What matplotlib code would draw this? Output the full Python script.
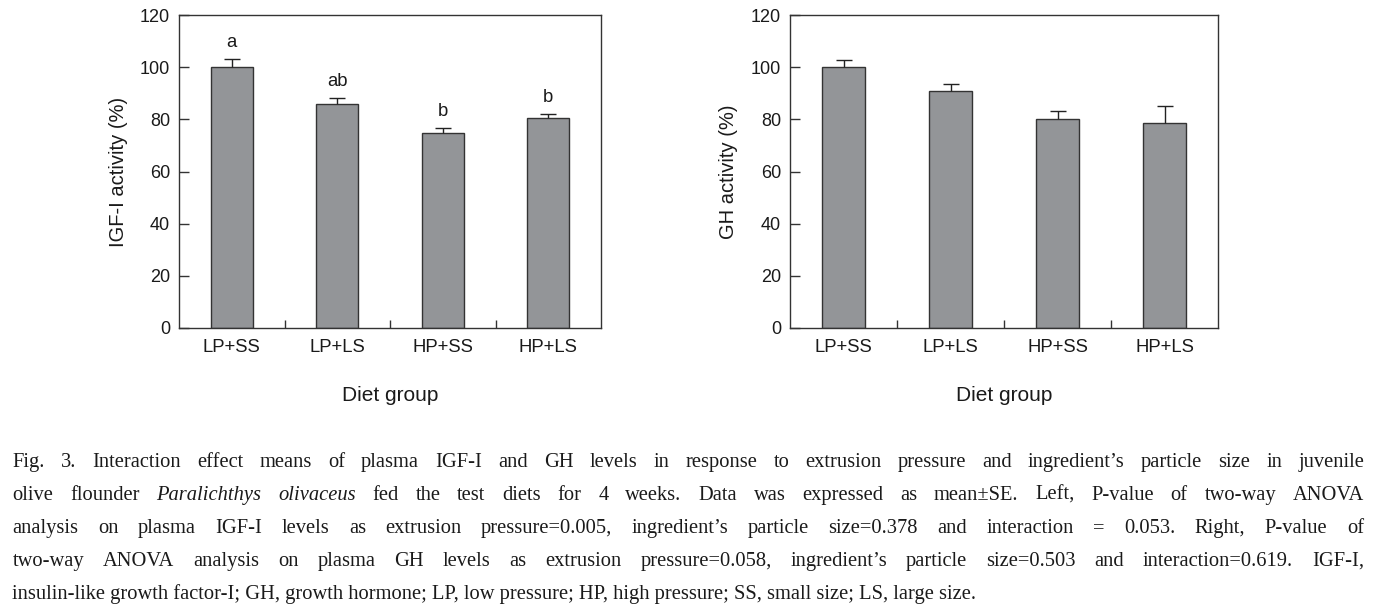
import matplotlib
matplotlib.use("Agg")
import matplotlib.pyplot as plt
import numpy as np

# ---- data ----
groups = ["LP+SS", "LP+LS", "HP+SS", "HP+LS"]
igf_mean = [100.0, 85.8, 74.8, 80.4]
igf_se = [3.2, 2.4, 2.0, 1.8]
igf_letters = ["a", "ab", "b", "b"]
gh_mean = [100.0, 90.7, 80.3, 78.7]
gh_se = [2.6, 2.7, 2.8, 6.3]

caption_lines = [
    "Fig. 3. Interaction effect means of plasma IGF-I and GH levels in response to extrusion pressure and ingredient\u2019s particle size in juvenile",
    "olive flounder Paralichthys olivaceus fed the test diets for 4 weeks. Data was expressed as mean\u00b1SE. Left, P-value of two-way ANOVA",
    "analysis on plasma IGF-I levels as extrusion pressure=0.005, ingredient\u2019s particle size=0.378 and interaction = 0.053. Right, P-value of",
    "two-way ANOVA analysis on plasma GH levels as extrusion pressure=0.058, ingredient\u2019s particle size=0.503 and interaction=0.619. IGF-I,",
    "insulin-like growth factor-I; GH, growth hormone; LP, low pressure; HP, high pressure; SS, small size; LS, large size.",
]
italic_words = {"Paralichthys", "olivaceus"}

W, H = 1387, 609
BAR = "#939598"
EDGE = "#333333"
TXT = "#1a1a1a"
SANS = "Liberation Sans"
SERIF = "Liberation Serif"

fig = plt.figure(figsize=(W / 100, H / 100), dpi=100)
fig.patch.set_facecolor("white")

ax1 = fig.add_axes([179 / W, 1 - 328 / H, 422 / W, 313 / H])
ax2 = fig.add_axes([790 / W, 1 - 328 / H, 428 / W, 313 / H])


def draw_panel(ax, means, errs, ylabel, letters=None):
    x = np.arange(len(groups))
    ax.bar(x, means, width=0.4, color=BAR, edgecolor=EDGE, linewidth=1.0, zorder=2)
    eb = ax.errorbar(x, means, yerr=[np.zeros(len(errs)), errs], fmt="none",
                     ecolor="#222222", elinewidth=1.0, capsize=6, capthick=1.0, zorder=3)
    eb[1][0].set_visible(False)  # only the upper half of the error bar is drawn
    ax.set_xlim(-0.5, len(groups) - 0.5)
    ax.set_ylim(0, 120)
    ax.set_yticks(range(0, 121, 20))
    ax.set_xticks(x)
    ax.set_xticklabels(groups, fontfamily=SANS, fontsize=13.3)
    ax.set_xticks(x[:-1] + 0.5, minor=True)
    ax.tick_params(axis="x", which="major", length=0, pad=8, colors=TXT)
    ax.tick_params(axis="x", which="minor", direction="in", length=6, width=1.0, color=EDGE)
    ax.tick_params(axis="y", direction="in", length=7, width=1.0, pad=6.5,
                   labelsize=13, color=EDGE, labelcolor=TXT)
    for lab in ax.get_yticklabels():
        lab.set_fontfamily(SANS)
    for s in ax.spines.values():
        s.set_color(EDGE)
        s.set_linewidth(1.0)
    ax.set_ylabel(ylabel, fontfamily=SANS, fontsize=14.5, va="center", color=TXT)
    ax.yaxis.set_label_coords(-61 / (ax.get_position().width * W), 0.5)
    ax.set_xlabel("Diet group", fontfamily=SANS, fontsize=15, color=TXT)
    ax.xaxis.set_label_coords(0.5, -0.186)
    if letters:
        for xi, m, e, t in zip(x, means, errs, letters):
            ax.text(xi, m + e + 4.6, t, ha="center", va="baseline",
                    fontfamily=SANS, fontsize=13.3, color=TXT)


draw_panel(ax1, igf_mean, igf_se, "IGF-I activity (%)", igf_letters)
draw_panel(ax2, gh_mean, gh_se, "GH activity (%)")

# ---- caption: justified word by word, last line left as is ----
fig.canvas.draw()
renderer = fig.canvas.get_renderer()
x_left, x_right = 12.5, 1364.0
baselines = [467, 500, 533, 566, 599]
cap_size = 14.8


def word_width(word):
    style = "italic" if word.strip(".,") in italic_words else "normal"
    t = fig.text(0, 0, word, fontfamily=SERIF, fontsize=cap_size, fontstyle=style)
    w = t.get_window_extent(renderer).width
    t.remove()
    return w


for ln, yb in zip(caption_lines[:-1], baselines[:-1]):
    words = ln.split()
    widths = [word_width(w) for w in words]
    gap = (x_right - x_left - sum(widths)) / (len(words) - 1)
    xpos = x_left
    for w, wd in zip(words, widths):
        style = "italic" if w.strip(".,") in italic_words else "normal"
        fig.text(xpos / W, 1 - yb / H, w, fontfamily=SERIF, fontsize=cap_size,
                 fontstyle=style, ha="left", va="baseline", color=TXT)
        xpos += wd + gap

fig.text(x_left / W, 1 - baselines[-1] / H, caption_lines[-1], fontfamily=SERIF,
         fontsize=cap_size, ha="left", va="baseline", color=TXT)

fig.savefig("out.png", dpi=100, facecolor="white")
